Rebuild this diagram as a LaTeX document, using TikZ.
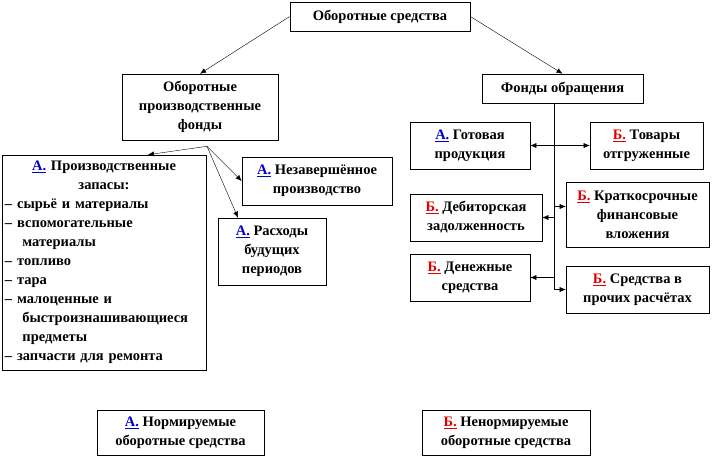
\documentclass[tikz,border=0pt]{standalone}
\usepackage{fontspec}
\setmainfont{Liberation Serif}
\usepackage{xcolor}
\definecolor{markA}{HTML}{0000CC}
\definecolor{markB}{HTML}{E00000}
\usetikzlibrary{arrows.meta, positioning, calc, shadows}
\newcommand{\mA}{\textcolor{markA}{\underline{А.}}}
\newcommand{\mB}{\textcolor{markB}{\underline{Б.}}}

\tikzset{
  box/.style={draw, line width=0.6pt, fill=white, align=center, inner sep=2pt,
    font=\fontsize{14.5}{19}\selectfont\bfseries,
    drop shadow={shadow xshift=0.6pt, shadow yshift=-1.2pt, fill=black!55, opacity=1}},
  arr/.style={-{Latex[length=6pt,width=5pt]}, thin},
  dbl/.style={{Latex[length=6pt,width=5pt]}-{Latex[length=6pt,width=5pt]}, thin}
}

\begin{document}
\begin{tikzpicture}[x=1pt, y=-1pt]
  \useasboundingbox (0,0) rectangle (714,461);
  % top level
  \node[box, minimum width=180pt, minimum height=29pt] (os) at (380,16.5) {Оборотные средства};
  \node[box, minimum width=156pt, minimum height=66pt] (opf) at (200,107) {Оборотные\\производственные\\фонды};
  \node[box, minimum width=161pt, minimum height=29pt] (fo) at (562.5,88.5) {Фонды обращения};

  % production funds
  \node[box, minimum width=204pt, minimum height=215pt, text width=198pt, align=left] (zap) at (104,262.5)
    {\hfill\mA{} Производственные\hfill\null\\
     \hfill запасы:\hfill\null\\
     – сырьё и материалы\\
     – вспомогательные\\
     \hspace*{1.2em}материалы\\
     – топливо\\
     – тара\\
     – малоценные и\\
     \hspace*{1.2em}быстроизнашивающиеся\\
     \hspace*{1.2em}предметы\\
     – запчасти для ремонта};
  \node[box, minimum width=150pt, minimum height=48pt] (nez) at (317,181) {\mA{} Незавершённое\\производство};
  \node[box, minimum width=108pt, minimum height=67pt] (rbp) at (272,251.5) {\mA{} Расходы\\будущих\\периодов};

  % circulation funds
  \node[box, minimum width=120pt, minimum height=47pt] (gp) at (470,145.5) {\mA{} Готовая\\продукция};
  \node[box, minimum width=113pt, minimum height=47pt] (to) at (646.5,145.5) {\mB{} Товары\\отгруженные};
  \node[box, minimum width=132pt, minimum height=47pt] (dz) at (476,217.5) {\mB{} Дебиторская\\задолженность};
  \node[box, minimum width=143pt, minimum height=65pt] (kfv) at (637.5,214.5) {\mB{} Краткосрочные\\финансовые\\вложения};
  \node[box, minimum width=120pt, minimum height=47pt] (ds) at (470,277.5) {\mB{} Денежные\\средства};
  \node[box, minimum width=143pt, minimum height=47pt] (spr) at (637.5,289.5) {\mB{} Средства в\\прочих расчётах};

  % legend
  \node[box, minimum width=167pt, minimum height=45pt] (norm) at (180.5,432.5) {\mA{} Нормируемые\\оборотные средства};
  \node[box, minimum width=168pt, minimum height=45pt] (nenorm) at (506,432.5) {\mB{} Ненормируемые\\оборотные средства};

  % connectors
  \draw[arr] (os.west) -- (opf.north);
  \draw[arr] (os.east) -- (fo.north);

  \coordinate (fork) at ([xshift=7pt,yshift=-6pt]opf.south);
  \draw[arr] (fork) -- ([xshift=44pt]zap.north);
  \draw[arr] (fork) -- (nez.west);
  \draw[arr] (fork) -- ([xshift=-34pt]rbp.north);

  \coordinate (tr) at ([xshift=-8pt]fo.south);
  \coordinate (kfvin) at ([yshift=8pt]kfv.west);
  \draw (tr) -- (tr |- spr.west);
  \draw[dbl] (gp.east) -- (to.west);
  \draw[arr] (tr |- dz.east) -- (dz.east);
  \draw[arr] (tr |- kfvin) -- (kfvin);
  \draw[arr] (tr |- ds.east) -- (ds.east);
  \draw[arr] (tr |- spr.west) -- (spr.west);
\end{tikzpicture}
\end{document}
